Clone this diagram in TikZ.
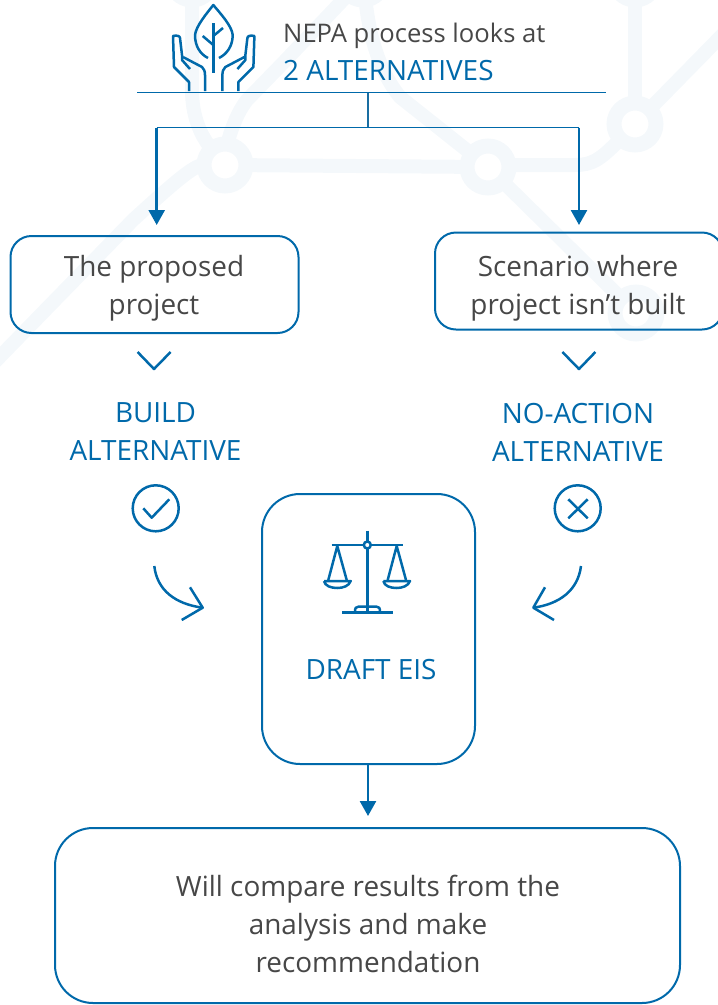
\documentclass[tikz,border=0pt]{standalone}
\usepackage{fontspec}
\setmainfont{Open Sans}
\usetikzlibrary{arrows.meta}
\definecolor{bluemain}{HTML}{0069AA}
\definecolor{graytext}{HTML}{474747}
\definecolor{bgnet}{HTML}{F4F8FB}
\tikzset{
 x=1pt,y=-1pt,
 roundbox/.style={draw=bluemain,line width=2pt,rounded corners=#1,inner sep=0pt},
 ico/.style={draw=bluemain,line width=2.5pt,line join=round},
 rulerline/.style={draw=bluemain,line width=1.5pt},
 flow/.style={draw=bluemain,line width=2.6pt,-{Triangle[length=15pt,width=16pt]}},
 net/.style={draw=bgnet,line width=14pt},
 netc/.style={draw=bgnet,line width=15pt,circle,minimum size=42pt,inner sep=0pt,outer sep=0pt},
 txt/.style={font=\fontsize{27.9}{38}\selectfont,text=graytext,align=center,inner sep=0pt},
 btxt/.style={font=\fontsize{27.9}{38}\selectfont,text=bluemain,align=center,inner sep=0pt},
}
\begin{document}
\begin{tikzpicture}
\useasboundingbox (0,0) rectangle (718,1005);
% background network
\node[netc] (n1) at (225,165) {};
\node[netc] (n2) at (488,167) {};
\node[netc] (n3) at (635,124) {};
\node[netc] (n4) at (636,313) {};
\node[netc] (n5) at (192,-21) {};
\node[netc] (n6) at (635,-21) {};
\node[netc] (n7) at (363,-21) {};
\coordinate (e1) at (735,22);
\coordinate (e3) at (-15,372);
\draw[net] (n1) -- (n2);
\draw[net] (n2.east) ++(0,-2) -- (575,165) .. controls (592,165) and (600,160) .. (n3);
\draw[net] (n3) -- (n6);
\draw[net] (n3) -- (e1);
\draw[net] (n2) -- (400,97) .. controls (380,72) and (370,40) .. (n7);
\draw[net] (n2) -- (n4);
\draw[net] (n1) .. controls (195,165) and (180,177) .. (133,220) -- (e3);
\draw[net] (n1) .. controls (200,135) and (192,115) .. (192,90) -- (n5);
\draw[net] (n1) .. controls (228,140) and (235,115) .. (247,100) -- (283,63) -- (n7);
% header
\coordinate (ruleL) at (137,92.5);
\coordinate (ruleR) at (606,92.5);
\coordinate (hub) at (368,92.5);
\coordinate (junction) at (368,127.5);
\coordinate (jl) at (156.7,127.5);
\coordinate (jr) at (579,127.5);
\draw[rulerline] (ruleL) -- (ruleR);
\draw[draw=bluemain!80!gray,line width=1.5pt] (hub) -- (junction);
\draw[rulerline] (jl) -- (jr);
\node[txt,anchor=base west] (head1) at (283,42) {\fontsize{25.6}{34}\selectfont NEPA process looks at};
\node[btxt,anchor=base west] (head2) at (283,80) {2 ALTERNATIVES};
% plant icon
\draw[ico] (208,58) .. controls (200,54) and (195,46) .. (195,35) .. controls (196,26) and (207,13) .. (213.3,5) .. controls (220,13) and (232,26) .. (232.7,35) .. controls (232.7,46) and (227,54) .. (219,58);
\draw[ico] (213.3,23) -- (213.3,73);
\draw[ico] (213.3,45) -- (202.7,36);
\draw[ico] (213.3,36) -- (223,28);
\draw[ico] (189,91) -- (189,82) -- (174,67) -- (173,36) .. controls (177,35) and (180,36) .. (180,38) -- (182,55) -- (182,60) -- (190,69);
\draw[ico] (205,91) -- (205,75) .. controls (205,71) and (204,69) .. (202,67) -- (183,57);
\draw[ico] (238.4,91) -- (238.4,82) -- (253.4,67) -- (254.4,36) .. controls (250.4,35) and (247.4,36) .. (247.4,38) -- (245.4,55) -- (245.4,60) -- (237.4,69);
\draw[ico] (222.4,91) -- (222.4,75) .. controls (222.4,71) and (223.4,69) .. (225.4,67) -- (244.4,57);
% flow boxes
\node[roundbox=21pt,minimum width=288pt,minimum height=97pt] (prop) at (154.5,284.5) {};
\node[roundbox=21pt,minimum width=288pt,minimum height=97pt] (scen) at (579,281) {};
\node[txt] (propt) at (154,288) {The proposed\\project};
\node[txt] (scent) at (578,288) {Scenario where\\project isn’t built};
\coordinate (pa) at (156.7,225);
\coordinate (sa) at (579,225);
\draw[flow] (jl) -- (pa);
\draw[flow] (jr) -- (sa);
% chevrons
\draw[ico] (137.6,352) -- (154,369) -- (170.6,352);
\draw[ico] (562.4,352) -- (579,369) -- (595.4,352);
% alternatives
\node[btxt] (build) at (155.5,432) {BUILD\\ALTERNATIVE};
\node[btxt] (noact) at (578,432) {NO-ACTION\\ALTERNATIVE};
% check and cross
\node[circle,draw=bluemain,line width=2.5pt,minimum size=46pt,inner sep=0pt] (chk) at (155.7,508.3) {};
\draw[ico] (143.3,508.3) -- (151.7,517.7) -- (169.3,499.3);
\node[circle,draw=bluemain,line width=2.5pt,minimum size=46pt,inner sep=0pt] (crs) at (577.7,508.3) {};
\draw[ico] (568.3,499.3) -- (587.7,518.3);
\draw[ico] (587.7,499.3) -- (568.3,518.3);
% curved arrows
\draw[ico] (154.3,566) .. controls (157,590) and (175,604) .. (202.7,607.7);
\draw[ico] (190,587.3) -- (202.7,607.7) -- (181.7,620);
\draw[ico] (581,566) .. controls (578,590) and (560,604) .. (533.3,607.7);
\draw[ico] (545,587.3) -- (533.3,607.7) -- (554,620);
% draft EIS
\node[roundbox=38pt,minimum width=213pt,minimum height=270pt] (eis) at (368.5,629) {};
\node[btxt] (eist) at (371,670) {DRAFT EIS};
% scales
\draw[ico] (367.3,530.7) -- (367.3,612);
\draw[ico] (331.7,545) -- (363.5,545);
\draw[ico] (371,545) -- (402.7,545);
\draw[ico,fill=white] (367.3,545) circle (3.5);
\draw[ico] (328.3,580) -- (337.3,546) -- (346.7,580);
\draw[ico] (324,581) -- (350.7,581) .. controls (349,586) and (343,588) .. (337.3,588) .. controls (331,588) and (325,586) .. (324,581);
\draw[ico] (387.7,580) -- (396.7,546) -- (406,580);
\draw[ico] (383.3,581) -- (410,581) .. controls (408.5,586) and (402,588) .. (396.7,588) .. controls (390,588) and (384.5,586) .. (383.3,581);
\draw[ico] (342.3,612.7) -- (392.7,612.7);
\draw[ico] (355,611.7) .. controls (355,608) and (356,606.7) .. (358.3,606.7) -- (376.7,606.7) .. controls (379,606.7) and (380,608) .. (380,611.7);
% result
\node[roundbox=38pt,minimum width=625pt,minimum height=175pt] (res) at (367.5,915.5) {};
\node[txt] (rest) at (368,924) {Will compare results from the\\analysis and make\\recommendation};
\draw[flow] (eis.south -| hub) -- ++(0,51);
\end{tikzpicture}
\end{document}
